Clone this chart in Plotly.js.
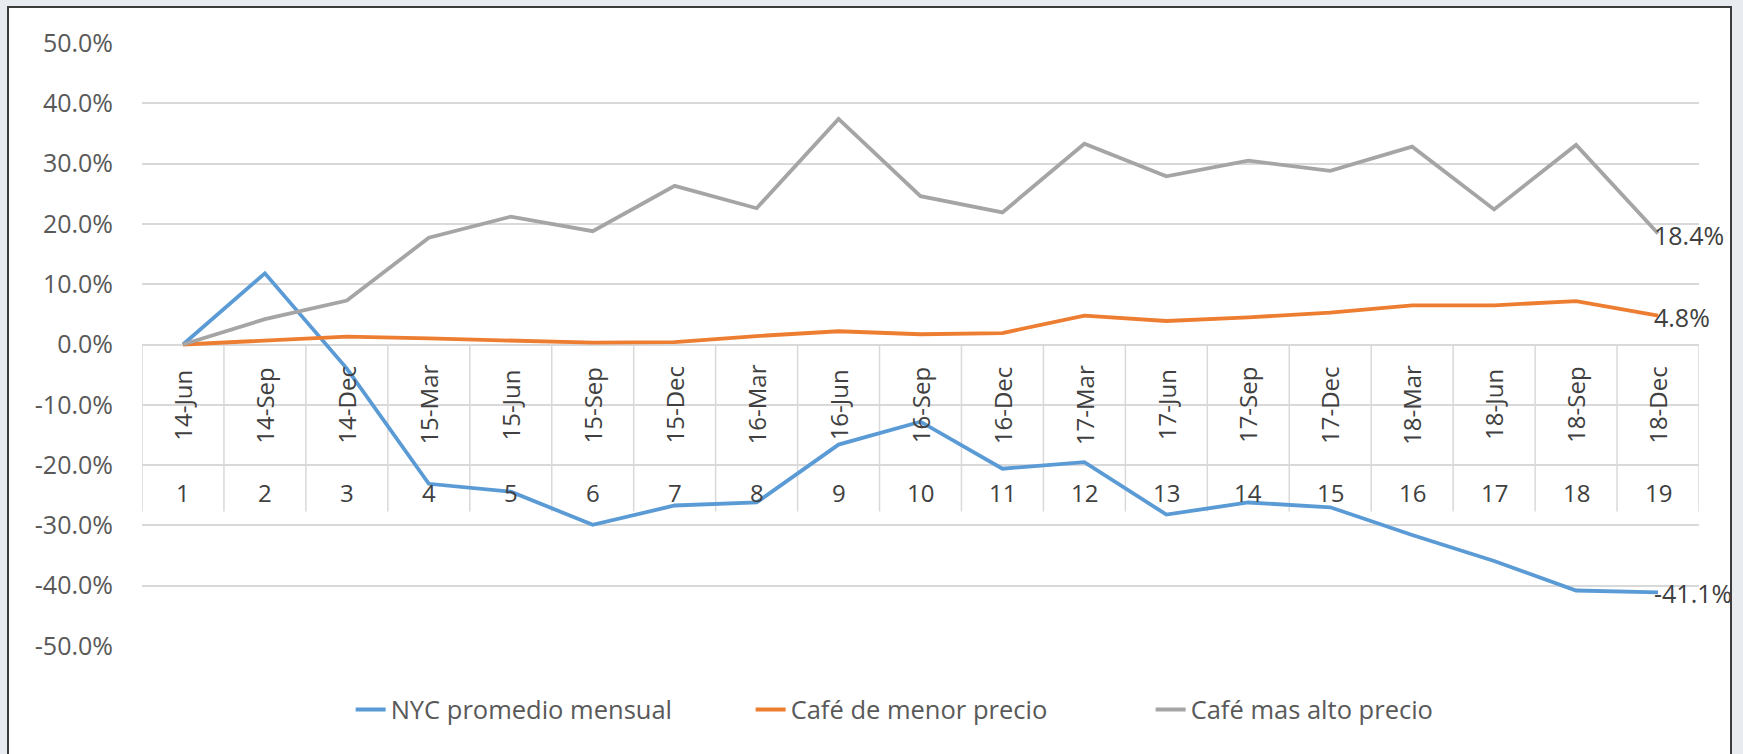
<!DOCTYPE html>
<html>
<head>
<meta charset="utf-8">
<script src="https://cdn.plot.ly/plotly-3.0.1.min.js"></script>
<style>
  html, body { margin: 0; padding: 0; width: 1743px; height: 754px; overflow: hidden; background: #e8ebef; }
  #frame { position: absolute; left: 7px; top: 6px; width: 1725px; height: 800px; border: 2px solid #3c3c3c; background: #ffffff; box-sizing: border-box; }
  #chart { position: absolute; left: 0; top: 0; width: 1743px; height: 754px; }
</style>
</head>
<body>
<div id="frame"></div>
<div id="chart"></div>
<script>
// ---- data ----
const periods = [1, 2, 3, 4, 5, 6, 7, 8, 9, 10, 11, 12, 13, 14, 15, 16, 17, 18, 19];
const dateLabels = ["14-Jun", "14-Sep", "14-Dec", "15-Mar", "15-Jun", "15-Sep", "15-Dec", "16-Mar", "16-Jun",
                    "16-Sep", "16-Dec", "17-Mar", "17-Jun", "17-Sep", "17-Dec", "18-Mar", "18-Jun", "18-Sep", "18-Dec"];
const seriesNames = ["NYC promedio mensual", "Café de menor precio", "Café mas alto precio"];
const nycPromedio = [0.0, 0.118, -0.040, -0.231, -0.244, -0.299, -0.267, -0.262, -0.166,
                     -0.128, -0.206, -0.195, -0.282, -0.262, -0.270, -0.316, -0.359, -0.408, -0.411];
const cafeMenor   = [0.0, 0.007, 0.013, 0.010, 0.006, 0.003, 0.004, 0.014, 0.022,
                     0.017, 0.019, 0.048, 0.039, 0.045, 0.053, 0.065, 0.065, 0.072, 0.048];
const cafeAlto    = [0.0, 0.042, 0.073, 0.177, 0.212, 0.188, 0.263, 0.226, 0.374,
                     0.246, 0.219, 0.333, 0.279, 0.305, 0.288, 0.328, 0.224, 0.331, 0.184];
const yTickValues = [-0.5, -0.4, -0.3, -0.2, -0.1, 0.0, 0.1, 0.2, 0.3, 0.4, 0.5];
const yTickLabels = ["-50.0%", "-40.0%", "-30.0%", "-20.0%", "-10.0%", "0.0%", "10.0%", "20.0%", "30.0%", "40.0%", "50.0%"];
const colors = ["#5b9bd5", "#ed7d31", "#a5a5a5"];

// ---- traces ----
const allSeries = [nycPromedio, cafeMenor, cafeAlto];
const traces = allSeries.map((vals, i) => ({
  type: "scatter",
  mode: "lines",
  x: periods,
  y: vals,
  name: seriesNames[i],
  line: { color: colors[i], width: 3.8 },
  hoverinfo: "x+y+name"
}));

// ---- table-like category axis inside the plot ----
const tableBottom = -0.277;
const shapes = [];
for (let i = 0; i <= periods.length; i++) {
  shapes.push({
    type: "line", xref: "x", yref: "y", layer: "below",
    x0: periods[0] - 0.5 + i, x1: periods[0] - 0.5 + i, y0: 0, y1: tableBottom,
    line: { color: "#d9d9d9", width: 1.5 }
  });
}

const annotations = [];
periods.forEach((p, i) => {
  annotations.push({
    x: p, y: -0.100, xref: "x", yref: "y", text: dateLabels[i], showarrow: false,
    textangle: -90, font: { family: "Open Sans", size: 24, color: "#404040" }
  });
  annotations.push({
    x: p, y: -0.246, xref: "x", yref: "y", text: String(p), showarrow: false,
    font: { family: "Open Sans", size: 24, color: "#404040" }
  });
});
// end-of-line data labels
[cafeAlto, cafeMenor, nycPromedio].forEach(vals => {
  const last = vals[vals.length - 1];
  annotations.push({
    x: periods[periods.length - 1], y: last, xref: "x", yref: "y",
    text: (last * 100).toFixed(1) + "%", showarrow: false,
    xanchor: "left", yanchor: "middle", xshift: -6, yshift: -1,
    font: { family: "Open Sans", size: 25, color: "#404040" }
  });
});

const layout = {
  width: 1743,
  height: 754,
  margin: { l: 142, r: 44, t: 43, b: 108 },
  paper_bgcolor: "rgba(0,0,0,0)",
  plot_bgcolor: "rgba(0,0,0,0)",
  font: { family: "Open Sans", color: "#595959" },
  showlegend: true,
  legend: {
    orientation: "h",
    x: 0.134, xanchor: "left",
    y: -0.106, yanchor: "middle",
    font: { family: "Open Sans", size: 25.5, color: "#595959" },
    entrywidth: 355, entrywidthmode: "pixels",
    bgcolor: "rgba(0,0,0,0)"
  },
  xaxis: {
    range: [0.5, 19.5],
    showticklabels: false,
    showgrid: false,
    zeroline: false,
    showline: false,
    ticks: "",
    fixedrange: true
  },
  yaxis: {
    range: [-0.5, 0.5],
    tickmode: "array",
    tickvals: yTickValues,
    ticktext: yTickLabels,
    showgrid: true,
    gridcolor: "#d9d9d9",
    gridwidth: 1.5,
    zeroline: true,
    zerolinecolor: "#d9d9d9",
    zerolinewidth: 1.5,
    showline: false,
    ticks: "",
    ticklabelstandoff: 28,
    tickfont: { family: "Open Sans", size: 25, color: "#595959" },
    fixedrange: true
  },
  shapes: shapes,
  annotations: annotations
};

Plotly.newPlot("chart", traces, layout, { displayModeBar: false });
</script>
</body>
</html>
